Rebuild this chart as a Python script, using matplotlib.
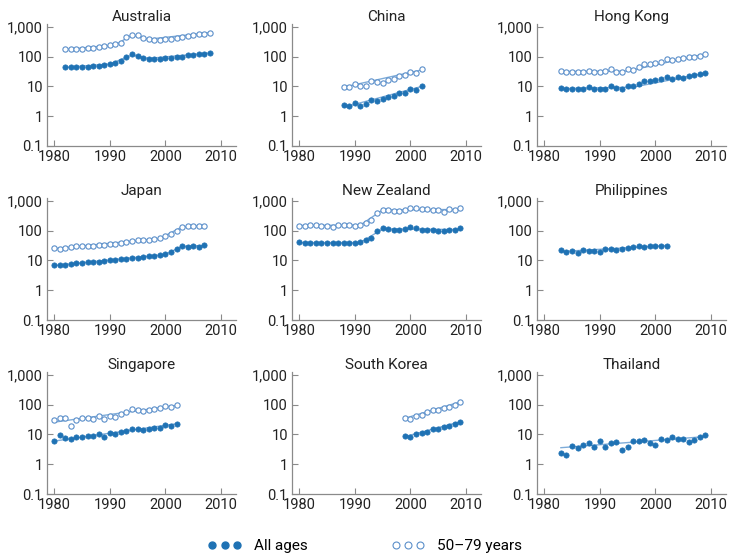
import matplotlib
matplotlib.use('Agg')
import matplotlib.pyplot as plt
from matplotlib.lines import Line2D
from matplotlib.ticker import FixedLocator, FixedFormatter, NullLocator

plt.rcParams['font.family'] = ['Roboto', 'DejaVu Sans']

# ---- data ----
countries = ['Australia', 'China', 'Hong Kong',
             'Japan', 'New Zealand', 'Philippines',
             'Singapore', 'South Korea', 'Thailand']

aus_start = 1982
aus_all = [44, 45, 45, 46, 46, 47, 48, 52, 55, 60, 70, 100, 120, 110, 90, 86, 84, 85, 88, 88, 95, 100, 115, 115, 120, 125, 135]
aus_old = [180, 178, 182, 185, 190, 200, 210, 230, 250, 260, 300, 450, 550, 520, 420, 380, 360, 370, 380, 390, 420, 450, 500, 530, 560, 600, 650]

chn_start = 1988
chn_all = [2.3, 2.2, 2.8, 2.2, 2.5, 3.5, 3.2, 3.7, 4.5, 4.8, 6.2, 6.0, 8.0, 7.5, 10]
chn_old = [9.5, 9.5, 12, 10.5, 10.5, 15, 14, 13, 16, 18, 22, 24, 30, 28, 38]

hk_start = 1983
hk_all = [9, 8, 8.5, 8.5, 8, 9.5, 8.5, 8, 8.5, 10, 9, 8.5, 10, 10, 12, 15, 15, 16, 18, 21, 18, 21, 20, 22, 24, 26, 28]
hk_old = [32, 30, 31, 30, 30, 33, 30, 30, 33, 38, 30, 30, 38, 35, 45, 55, 55, 60, 65, 85, 75, 85, 90, 95, 100, 110, 125]

jpn_start = 1980
jpn_all = [7, 6.8, 7, 7.5, 8, 8.5, 8.7, 9, 8.8, 9.5, 10, 10.5, 11, 11.5, 12, 12.5, 13, 14, 14, 15, 16, 19, 24, 30, 29, 30, 29, 33]
jpn_old = [26, 25, 27, 29, 30, 31, 31, 31, 32, 34, 35, 37, 40, 42, 45, 47, 48, 50, 53, 55, 65, 80, 100, 135, 140, 140, 140, 150]

nz_start = 1980
nz_all = [42, 38, 40, 40, 38, 40, 40, 40, 40, 40, 40, 42, 50, 58, 95, 120, 115, 110, 110, 115, 130, 125, 110, 110, 105, 100, 95, 110, 105, 120]
nz_old = [150, 150, 155, 155, 150, 145, 135, 155, 160, 155, 150, 160, 180, 230, 380, 500, 480, 460, 470, 490, 600, 580, 520, 520, 500, 480, 440, 520, 510, 560]

phl_start = 1983
phl_all = [22, 20, 21, 18, 23, 21, 21, 19, 24, 25, 22, 25, 27, 28, 30, 28, 31, 31, 31, 30]
phl_old = []

sgp_start = 1980
sgp_all = [6, 9.5, 7.5, 7, 8, 8, 9, 9, 10, 8.5, 11, 10, 12, 13.5, 15, 15.5, 14, 15, 17, 17, 21, 20, 23]
sgp_old = [30, 37, 35, 19, 30, 35, 35, 33, 42, 33, 42, 40, 50, 58, 70, 65, 62, 65, 70, 75, 88, 85, 100]

kor_start = 1999
kor_all = [9, 8.5, 10.5, 11, 12.5, 15.5, 15.5, 18, 20, 23, 26]
kor_old = [37, 32, 42, 45, 55, 65, 65, 75, 85, 100, 122]

tha_start = 1983
tha_all = [2.4, 2.1, 4.2, 3.6, 4.5, 5, 3.8, 6, 3.8, 5, 5.8, 3, 3.9, 6.2, 6, 6.6, 5, 4.4, 7, 6.5, 8, 7, 7.2, 5.5, 6.5, 8, 9.5]
tha_old = []

# trend segments (joinpoints): (year, value)
aus_fit_all = [(1982, 44), (1990, 57), (1994, 115), (1997, 88), (2008, 135)]
aus_fit_old = [(1982, 175), (1991, 250), (1994, 540), (1997, 390), (2008, 650)]
chn_fit_all = [(1988, 2.0), (2002, 10)]
chn_fit_old = [(1988, 9.5), (2002, 36)]
hk_fit_all = [(1983, 8.5), (1996, 9.5), (2009, 28)]
hk_fit_old = [(1983, 32), (1995, 33), (2009, 125)]
jpn_fit_all = [(1980, 6.8), (2000, 16), (2003, 30), (2007, 32)]
jpn_fit_old = [(1980, 25), (1999, 55), (2003, 135), (2007, 148)]
nz_fit_all = [(1980, 40), (1991, 40), (1995, 115), (2009, 110)]
nz_fit_old = [(1980, 150), (1991, 155), (1995, 500), (2009, 520)]
phl_fit_all = [(1983, 20), (2002, 32)]
phl_fit_old = []
sgp_fit_all = [(1980, 6), (2002, 23)]
sgp_fit_old = [(1980, 26), (2002, 95)]
kor_fit_all = [(1999, 8.5), (2009, 27)]
kor_fit_old = [(1999, 35), (2009, 125)]
tha_fit_all = [(1983, 3.6), (2009, 8.5)]
tha_fit_old = []

panels = [
    (aus_start, aus_all, aus_old, aus_fit_all, aus_fit_old),
    (chn_start, chn_all, chn_old, chn_fit_all, chn_fit_old),
    (hk_start, hk_all, hk_old, hk_fit_all, hk_fit_old),
    (jpn_start, jpn_all, jpn_old, jpn_fit_all, jpn_fit_old),
    (nz_start, nz_all, nz_old, nz_fit_all, nz_fit_old),
    (phl_start, phl_all, phl_old, phl_fit_all, phl_fit_old),
    (sgp_start, sgp_all, sgp_old, sgp_fit_all, sgp_fit_old),
    (kor_start, kor_all, kor_old, kor_fit_all, kor_fit_old),
    (tha_start, tha_all, tha_old, tha_fit_all, tha_fit_old),
]

x_ticks = [1980, 1990, 2000, 2010]
y_ticks = [0.1, 1, 10, 100, 1000]
y_labels = ['0.1', '1', '10', '100', '1,000']

dark = '#1f72b4'
light = '#5b8fca'
line_c = '#7eacd9'
spine_c = '#8a8a8a'

W, H = 751, 559
fig = plt.figure(figsize=(W / 100, H / 100), dpi=100)

col_left = [47, 292, 537]
row_top = [24, 198, 372]
ax_w, ax_h = 189, 122

for i, (name, p) in enumerate(zip(countries, panels)):
    r, c = divmod(i, 3)
    ax = fig.add_axes([col_left[c] / W, 1 - (row_top[r] + ax_h) / H, ax_w / W, ax_h / H])
    start, v_all, v_old, f_all, f_old = p

    if f_old:
        ax.plot([q[0] for q in f_old], [q[1] for q in f_old], color=line_c, lw=1.0, zorder=2)
    if f_all:
        ax.plot([q[0] for q in f_all], [q[1] for q in f_all], color=line_c, lw=1.0, zorder=2)
    if v_old:
        ax.plot(range(start, start + len(v_old)), v_old, ls='none', marker='o', ms=3.8,
                mfc='white', mec=light, mew=0.8, zorder=3)
    ax.plot(range(start, start + len(v_all)), v_all, ls='none', marker='o', ms=3.8,
            mfc=dark, mec=dark, mew=0.5, zorder=4)

    ax.set_yscale('log')
    ax.set_ylim(0.1, 1260)
    ax.set_xlim(1978.7, 2012.7)
    ax.yaxis.set_major_locator(FixedLocator(y_ticks))
    ax.yaxis.set_major_formatter(FixedFormatter(y_labels))
    ax.yaxis.set_minor_locator(NullLocator())
    ax.set_xticks(x_ticks)
    ax.set_xticklabels([str(t) for t in x_ticks])
    ax.tick_params(direction='in', length=4, width=0.8, color=spine_c, labelsize=10.5,
                   pad=3, labelcolor='#222222')
    for s in ['top', 'right']:
        ax.spines[s].set_visible(False)
    for s in ['left', 'bottom']:
        ax.spines[s].set_color(spine_c)
        ax.spines[s].set_linewidth(0.9)
    ax.set_title(name, fontsize=11, pad=2, color='#222222')
    ax.patch.set_alpha(0)

h1 = Line2D([], [], ls='none', marker='o', ms=5, mfc=dark, mec=dark)
h2 = Line2D([], [], ls='none', marker='o', ms=5, mfc='white', mec=light, mew=0.8)
fig.legend([h1, h2], ['All ages', '50\u201379 years'], loc='center',
           bbox_to_anchor=(0.486, 0.023), ncol=2, numpoints=3, frameon=False,
           fontsize=11, handlelength=2.2, handletextpad=0.8, columnspacing=5.5)

fig.savefig('out.png', dpi=100)
